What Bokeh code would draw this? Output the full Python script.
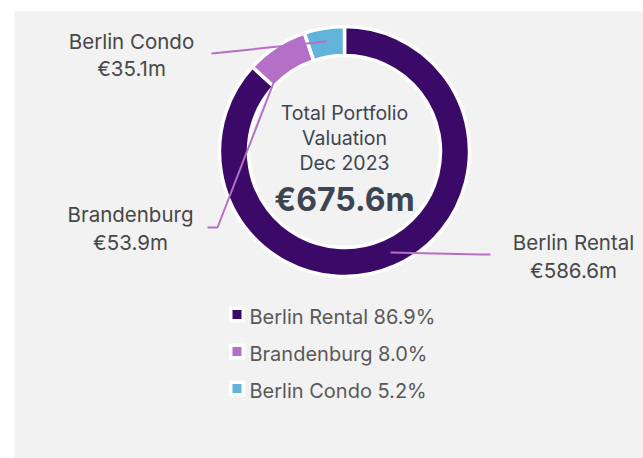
import math
from bokeh.plotting import figure
from bokeh.models import Range1d
from bokeh.core.properties import value
from bokeh.embed import file_html
from bokeh.resources import INLINE

# ---- data ----
categories = ["Berlin Rental", "Brandenburg", "Berlin Condo"]
values_m = [586.6, 53.9, 35.1]
shares_pct = [86.9, 8.0, 5.2]
value_labels = ["€586.6m", "€53.9m", "€35.1m"]
total_label = "€675.6m"
center_lines = ["Total Portfolio", "Valuation", "Dec 2023"]
colors = ["#3b0a68", "#b46fc6", "#62b3d9"]

FONT = "Inter"
W, H = 643, 458
DY = 6  # text baseline correction

def X(px):
    return px

def Y(py):
    return H - py

def TY(py):
    return H - (py - DY)

p = figure(width=W, height=H, output_backend="svg", toolbar_location=None,
           x_range=Range1d(0, W), y_range=Range1d(0, H), min_border=0,
           border_fill_color="white", background_fill_color="white")
p.axis.visible = False
p.grid.visible = False
p.outline_line_color = None

# panel
p.quad(left=X(14), right=W + 5, top=Y(11), bottom=-5, fill_color="#f2f2f2", line_color=None)

# donut
cx, cy = X(344), Y(151)
total = sum(values_m)
cum = 0.0
starts, ends = [], []
for v in values_m:
    starts.append(math.pi / 2 - 2 * math.pi * cum / total)
    cum += v
    ends.append(math.pi / 2 - 2 * math.pi * cum / total)

p.annular_wedge(x=[cx] * 3, y=[cy] * 3, inner_radius=96, outer_radius=125,
                inner_radius_units="screen", outer_radius_units="screen",
                start_angle=starts, end_angle=ends, direction="clock",
                fill_color=colors, line_color="white", line_width=3.5)

# leader lines (layout)
line_col = "#b46fc6"
leaders = {
    "Berlin Rental": [(390, 252), (480, 254), (490, 254)],
    "Brandenburg": [(207, 227), (217, 227), (274, 80)],
    "Berlin Condo": [(211, 53), (221, 52), (326, 41)],
}
for name, pts in leaders.items():
    p.line([X(a) for a, b in pts], [Y(b) for a, b in pts], line_color=line_col, line_width=2)

# outside labels
label_pos = {
    "Berlin Rental": (573, 248, 276),
    "Brandenburg": (130, 220, 248),
    "Berlin Condo": (131, 47, 74),
}
for name, vl in zip(categories, value_labels):
    lx, b1, b2 = label_pos[name]
    p.text(x=[X(lx), X(lx)], y=[TY(b1), TY(b2)], text=[name, vl],
           text_font=value(FONT), text_font_size="20.5px", text_color="#474747",
           text_align="center", text_baseline="alphabetic")

# center text
p.text(x=[cx] * 3, y=[TY(118), TY(143), TY(168)], text=center_lines,
       text_font=value(FONT), text_font_size="19.5px", text_color="#3d4551",
       text_align="center", text_baseline="alphabetic")
p.text(x=[cx], y=[TY(205)], text=[total_label],
       text_font=value(FONT), text_font_size="32px", text_font_style="bold",
       text_color="#3d4551", text_align="center", text_baseline="alphabetic")

# legend
rows_y = [314, 351, 388]
leg_text = [f"{c} {s:.1f}%" for c, s in zip(categories, shares_pct)]
p.scatter(x=[X(236.5)] * 3, y=[Y(r) for r in rows_y], marker="square", size=15,
          fill_color="white", line_color="white", line_width=1)
p.scatter(x=[X(236.5)] * 3, y=[Y(r) for r in rows_y], marker="square", size=9,
          fill_color=colors, line_color=None)
p.text(x=[X(249)] * 3, y=[TY(r + 8) for r in rows_y], text=leg_text,
       text_font=value(FONT), text_font_size="20px", text_color="#595959",
       text_align="left", text_baseline="alphabetic")

open("out.html", "w").write(file_html(p, INLINE))
